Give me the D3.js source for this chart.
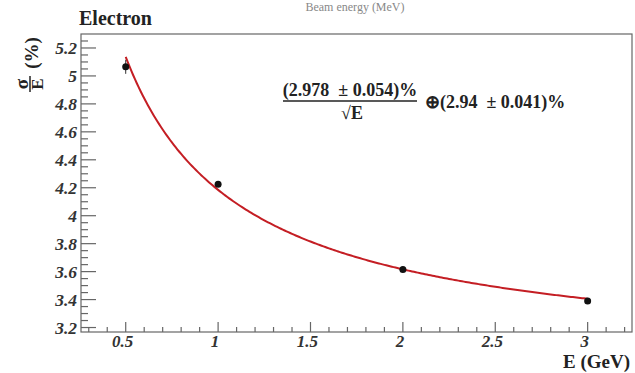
<!DOCTYPE html>
<html><head><meta charset="utf-8">
<script src="https://cdn.jsdelivr.net/npm/d3@7"></script>
<style>
html,body{margin:0;padding:0;background:#fff;}
svg{display:block;}
text{font-family:"Liberation Serif","Times New Roman",serif;}
</style></head>
<body>
<script>
// ---- data ----
const energies = [0.5, 1, 2, 3];               // E (GeV)
const resolution = [5.065, 4.225, 3.615, 3.39]; // sigma/E (%)
const resErr = [0.05, 0.02, 0.02, 0.02];
const fitStochastic = 2.978;  // %
const fitConstant = 2.94;     // %
const xTickLabels = ["0.5", "1", "1.5", "2", "2.5", "3"];
const yTickLabels = ["3.2", "3.4", "3.6", "3.8", "4", "4.2", "4.4", "4.6", "4.8", "5", "5.2"];

const W = 635, H = 373;
const pLeft = 81, pRight = 632, pTop = 34, pBottom = 332;

const svg = d3.select("body").append("svg").attr("width", W).attr("height", H);

const x = d3.scaleLinear().domain([0.258, 3.24]).range([pLeft, pRight]);
const y = d3.scaleLinear().domain([3.168, 5.30]).range([pBottom, pTop]);

const axisColor = "#666";

// frame
svg.append("rect").attr("x", pLeft).attr("y", pTop).attr("width", pRight - pLeft).attr("height", pBottom - pTop)
  .attr("fill", "none").attr("stroke", axisColor).attr("stroke-width", 1.2);

// y axis ticks
const yMajor = yTickLabels.map(Number);
const yMinor = d3.range(3.2, 5.30, 0.05).filter(v => !yMajor.some(m => Math.abs(m - v) < 1e-6));
const gy = svg.append("g");
gy.selectAll("line.maj").data(yMajor).join("line")
  .attr("x1", pLeft).attr("x2", pLeft + 15).attr("y1", d => y(d)).attr("y2", d => y(d))
  .attr("stroke", axisColor).attr("stroke-width", 1.2);
gy.selectAll("line.min").data(yMinor).join("line")
  .attr("x1", pLeft).attr("x2", pLeft + 7).attr("y1", d => y(d)).attr("y2", d => y(d))
  .attr("stroke", axisColor).attr("stroke-width", 1.2);
gy.selectAll("text").data(yTickLabels).join("text")
  .attr("x", pLeft - 4).attr("y", d => y(+d)).attr("dy", "0.35em")
  .attr("text-anchor", "end").attr("font-size", 17.5).attr("font-weight", "bold").attr("font-style", "italic")
  .attr("fill", "#333").text(d => d);

// x axis ticks
const xMajor = xTickLabels.map(Number);
const xMinor = d3.range(0.3, 3.24, 0.1).filter(v => !xMajor.some(m => Math.abs(m - v) < 1e-6));
const gx = svg.append("g");
gx.selectAll("line.maj").data(xMajor).join("line")
  .attr("x1", d => x(d)).attr("x2", d => x(d)).attr("y1", pBottom).attr("y2", pBottom - 10)
  .attr("stroke", axisColor).attr("stroke-width", 1.2);
gx.selectAll("line.min").data(xMinor).join("line")
  .attr("x1", d => x(d)).attr("x2", d => x(d)).attr("y1", pBottom).attr("y2", pBottom - 5)
  .attr("stroke", axisColor).attr("stroke-width", 1.2);
gx.selectAll("text").data(xTickLabels).join("text")
  .attr("x", d => x(+d) - 3).attr("y", 347)
  .attr("text-anchor", "middle").attr("font-size", 17).attr("font-weight", "bold").attr("font-style", "italic")
  .attr("fill", "#333").text(d => d);

// axis titles
svg.append("text").attr("x", 630).attr("y", 368).attr("text-anchor", "end")
  .attr("font-size", 19).attr("font-weight", "bold").attr("fill", "#222").text("E (GeV)");

// y title: sigma over E (%)
const yt = svg.append("g").attr("fill", "#222").attr("font-weight", "bold");
yt.append("text").attr("transform", "translate(28,84) rotate(-90)").attr("text-anchor", "middle")
  .attr("font-size", 19).text("σ");
yt.append("line").attr("x1", 30).attr("x2", 30).attr("y1", 76).attr("y2", 92)
  .attr("stroke", "#222").attr("stroke-width", 1.5);
yt.append("text").attr("transform", "translate(43,84) rotate(-90)").attr("text-anchor", "middle")
  .attr("font-size", 17).text("E");
yt.append("text").attr("transform", "translate(38,53) rotate(-90)").attr("text-anchor", "middle")
  .attr("font-size", 19).text("(%)");

// title
svg.append("text").attr("x", 79).attr("y", 25).attr("font-size", 20).attr("font-weight", "bold")
  .attr("fill", "#222").text("Electron");
// top text (mostly cut off in the reference)
svg.append("text").attr("x", 355).attr("y", 11).attr("text-anchor", "middle").attr("font-size", 12)
  .attr("fill", "#888").text("Beam energy (MeV)");

// fit curve from fit parameters
const fitFn = e => Math.sqrt(Math.pow(fitStochastic / Math.sqrt(e), 2) + fitConstant * fitConstant);
const fitXs = d3.range(0.5, 3.0001, 0.01);
svg.append("path").datum(fitXs)
  .attr("d", d3.line().x(d => x(d)).y(d => y(fitFn(d))))
  .attr("fill", "none").attr("stroke", "#c41e24").attr("stroke-width", 2);

// error bars & points
const pts = energies.map((e, i) => ({e, v: resolution[i], err: resErr[i]}));
svg.selectAll("line.err").data(pts).join("line")
  .attr("x1", d => x(d.e)).attr("x2", d => x(d.e))
  .attr("y1", d => y(d.v + d.err)).attr("y2", d => y(d.v - d.err))
  .attr("stroke", "#333").attr("stroke-width", 1);
svg.selectAll("circle.pt").data(pts).join("circle")
  .attr("cx", d => x(d.e)).attr("cy", d => y(d.v)).attr("r", 3.5).attr("fill", "#111");

// formula annotation
const fg = svg.append("g").attr("fill", "#222").attr("font-weight", "bold").attr("font-size", 18);
fg.append("text").attr("x", 350).attr("y", 96).attr("text-anchor", "middle").text("(2.978 \u00a0± 0.054)%");
fg.append("line").attr("x1", 283).attr("x2", 417).attr("y1", 101).attr("y2", 101)
  .attr("stroke", "#222").attr("stroke-width", 1.4);
fg.append("text").attr("x", 352).attr("y", 119).attr("text-anchor", "middle").text("√E");
fg.append("text").attr("x", 425).attr("y", 108).text("⊕(2.94 \u00a0± 0.041)%");
</script>
</body></html>
